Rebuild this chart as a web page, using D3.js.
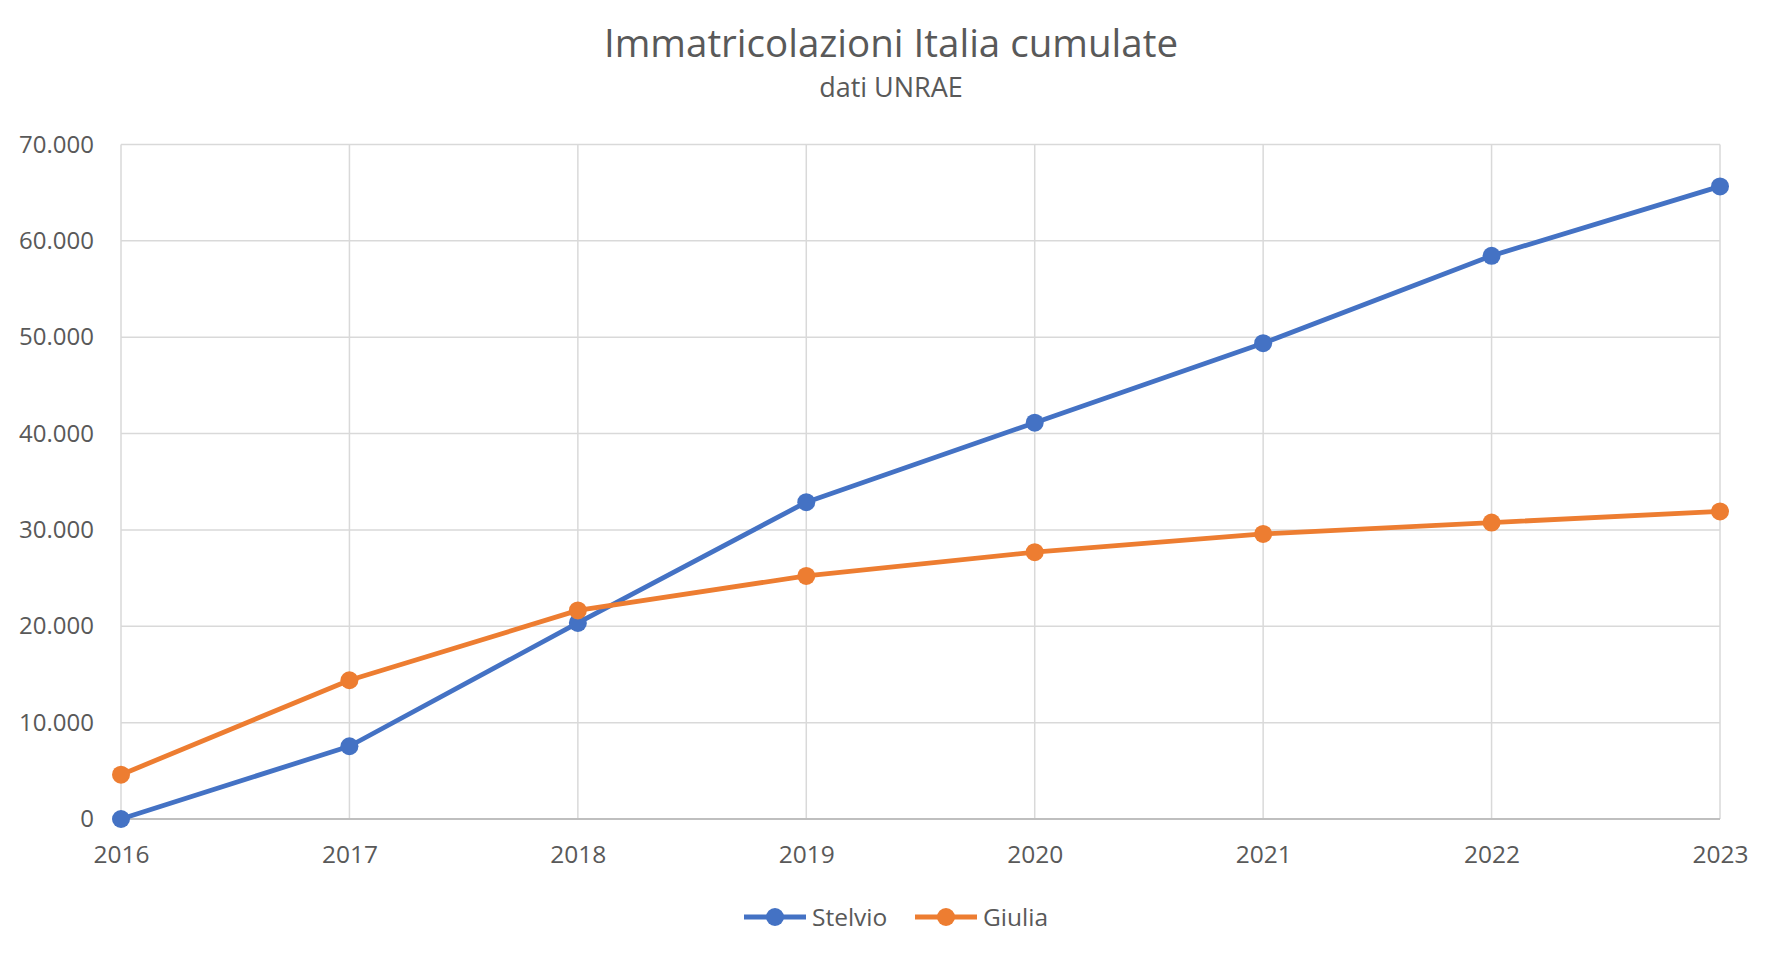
<!DOCTYPE html>
<html><head><meta charset="utf-8">
<script src="https://cdn.jsdelivr.net/npm/d3@7"></script>
<style>body{margin:0;background:#fff;} svg{display:block;font-family:"Open Sans",sans-serif;}</style>
</head><body>
<svg id="c" width="1778" height="960"></svg>
<script>
const years = [2016, 2017, 2018, 2019, 2020, 2021, 2022, 2023];
const stelvio = [0, 7550, 20350, 32880, 41130, 49380, 58450, 65650];
const giulia = [4600, 14400, 21650, 25230, 27690, 29580, 30760, 31920];
const yTicks = [0, 10000, 20000, 30000, 40000, 50000, 60000, 70000];
const seriesNames = ["Stelvio", "Giulia"];
const colors = ["#4472C4", "#ED7D31"];

const svg = d3.select("#c");
const L = 121, R = 1720, T = 144.5, B = 819;
const x = d3.scalePoint().domain(years).range([L, R]);
const y = d3.scaleLinear().domain([0, 70000]).range([B, T]);
const fmt = v => d3.format(",")(v).replace(/,/g, ".");

// gridlines
svg.append("g").selectAll("line").data(yTicks.slice(1)).join("line")
  .attr("x1", L).attr("x2", R).attr("y1", d => y(d)).attr("y2", d => y(d))
  .attr("stroke", "#D9D9D9").attr("stroke-width", 1.5);
svg.append("g").selectAll("line").data(years).join("line")
  .attr("x1", d => x(d)).attr("x2", d => x(d)).attr("y1", T).attr("y2", B)
  .attr("stroke", "#D9D9D9").attr("stroke-width", 1.5);
// bottom axis line
svg.append("line").attr("x1", L).attr("x2", R).attr("y1", B).attr("y2", B)
  .attr("stroke", "#BFBFBF").attr("stroke-width", 2);

// y labels
const yAxis = d3.axisLeft(y).tickValues(yTicks).tickFormat(fmt).tickSize(0).tickPadding(27);
const ga = svg.append("g").attr("transform", `translate(${L},0)`).call(yAxis);
ga.select(".domain").remove();
ga.selectAll("text").attr("fill", "#595959").style("font-size", "24px").style("font-family", "Open Sans");

const xAxis = d3.axisBottom(x).tickSize(0).tickPadding(27);
const gx = svg.append("g").attr("transform", `translate(0,${B})`).call(xAxis);
gx.select(".domain").remove();
gx.selectAll("text").attr("fill", "#595959").style("font-size", "24.5px").style("font-family", "Open Sans");

// lines
const data = [stelvio, giulia];
const line = d3.line().x((d, i) => x(years[i])).y(d => y(d));
data.forEach((s, k) => {
  const g = svg.append("g");
  g.append("path").attr("d", line(s)).attr("fill", "none").attr("stroke", colors[k])
    .attr("stroke-width", 4.8).attr("stroke-linejoin", "round");
  g.selectAll("circle").data(s).join("circle")
    .attr("cx", (d, i) => x(years[i])).attr("cy", d => y(d)).attr("r", 9).attr("fill", colors[k]);
});

// title
svg.append("text").attr("x", 891).attr("y", 57).attr("text-anchor", "middle")
  .attr("fill", "#595959").style("font-size", "38.5px").text("Immatricolazioni Italia cumulate");
svg.append("text").attr("x", 891).attr("y", 97).attr("text-anchor", "middle")
  .attr("fill", "#595959").style("font-size", "27px").text("dati UNRAE");

// legend
const legX = [744, 915];
const legY = 917;
seriesNames.forEach((n, k) => {
  const g = svg.append("g");
  g.append("line").attr("x1", legX[k]).attr("x2", legX[k] + 62).attr("y1", legY).attr("y2", legY)
    .attr("stroke", colors[k]).attr("stroke-width", 4.8);
  g.append("circle").attr("cx", legX[k] + 31).attr("cy", legY).attr("r", 9).attr("fill", colors[k]);
  g.append("text").attr("x", legX[k] + 68).attr("y", legY).attr("dy", "0.35em")
    .attr("fill", "#595959").style("font-size", "24.5px").text(n);
});
</script>
</body></html>
